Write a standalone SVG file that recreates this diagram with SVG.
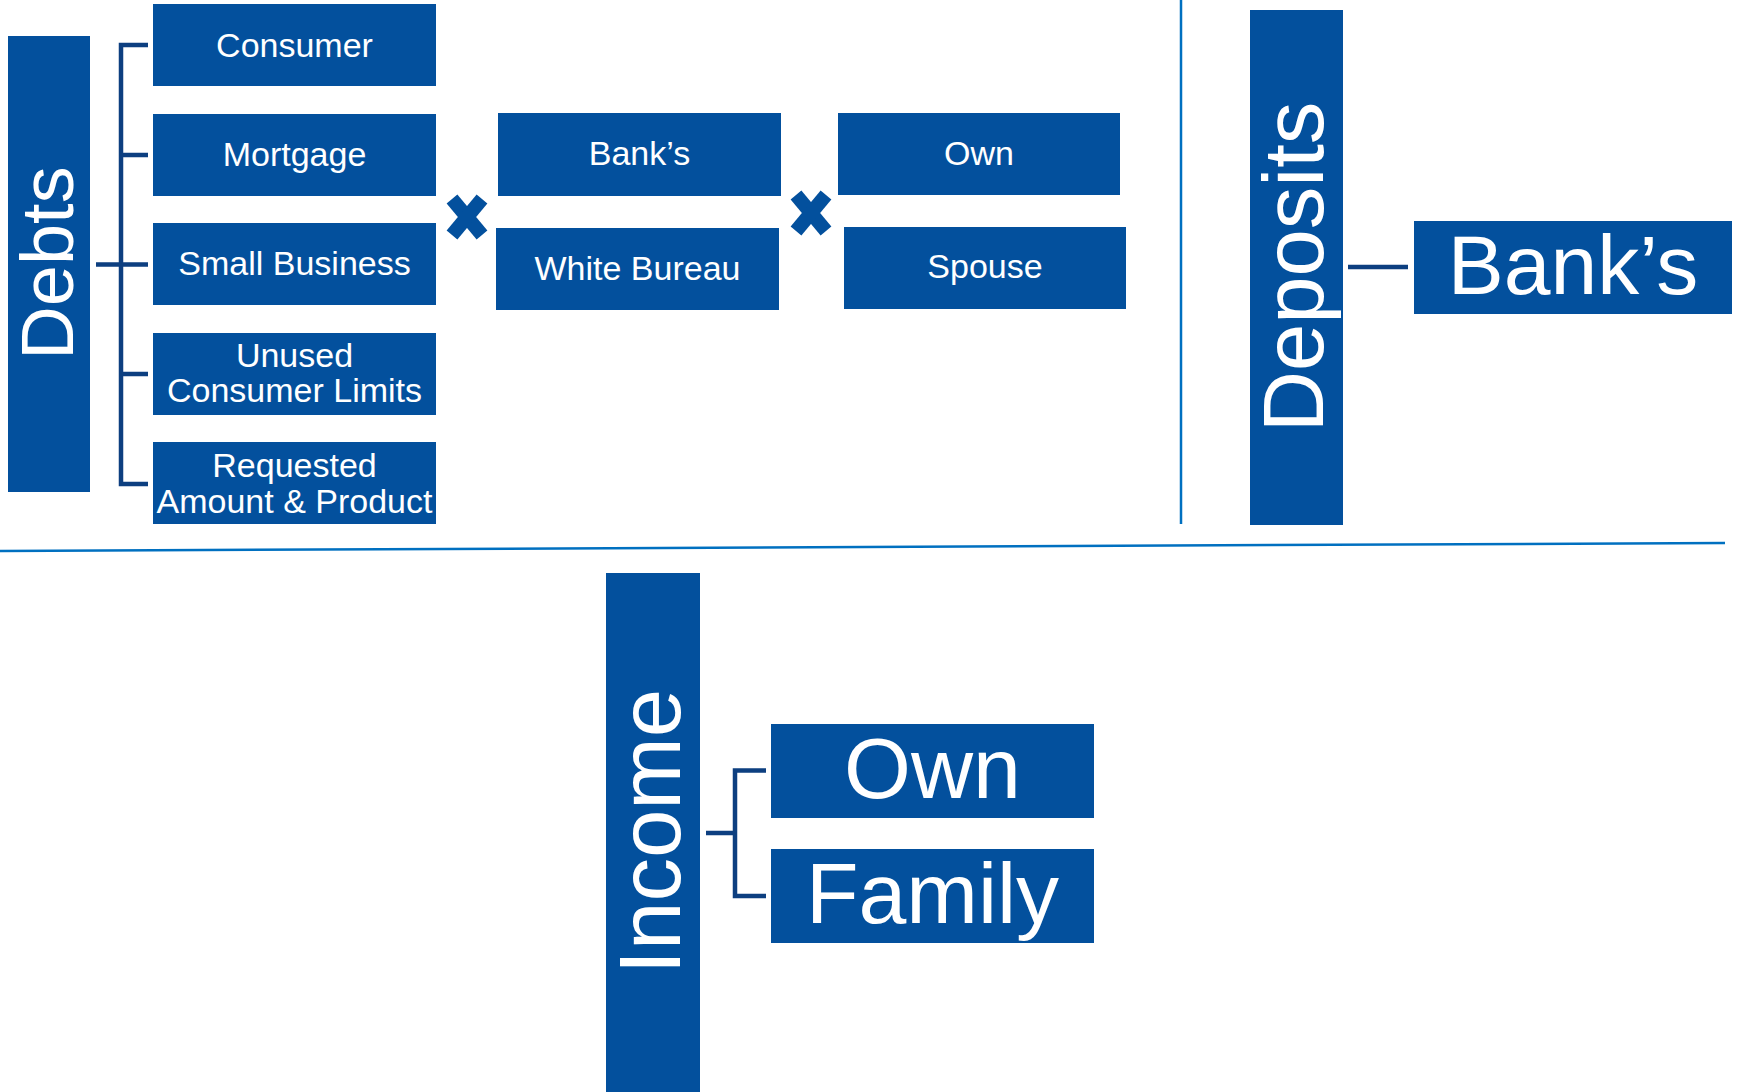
<svg xmlns="http://www.w3.org/2000/svg" width="1737" height="1092" viewBox="0 0 1737 1092">
  <style>
    .box { fill: #03509D; }
    .lbl { fill: #FFFFFF; font-family: "Liberation Sans", Arial, sans-serif; text-anchor: middle; }
    .sm { font-size: 34px; }
    .conn { stroke: #0D3F80; stroke-width: 4.5; fill: none; }
    .sep { stroke: #0070C0; stroke-width: 2.5; fill: none; }
    .mul { stroke: #03509D; stroke-width: 14; stroke-linecap: butt; }
  </style>

  <rect width="1737" height="1092" fill="#FFFFFF"/>

  <!-- section dividers -->
  <g id="dividers">
    <line class="sep" x1="1181" y1="0" x2="1181" y2="524"/>
    <line class="sep" x1="0" y1="551" x2="1725" y2="543"/>
  </g>

  <!-- connectors -->
  <g id="connectors">
    <path class="conn" d="M96 264.5 H121 M148 45 H121 V484 H148 M121 155 H148 M121 264.5 H148 M121 374 H148"/>
    <line class="conn" x1="1348" y1="267" x2="1408" y2="267"/>
    <path class="conn" d="M706 833 H735 M766 770.5 H735 V896 H766"/>
  </g>

  <!-- multiplication marks -->
  <g id="times-1">
    <line class="mul" x1="452" y1="199" x2="482" y2="235"/>
    <line class="mul" x1="482" y1="199" x2="452" y2="235"/>
  </g>
  <g id="times-2">
    <line class="mul" x1="796" y1="195" x2="826" y2="231"/>
    <line class="mul" x1="826" y1="195" x2="796" y2="231"/>
  </g>

  <!-- Debts -->
  <g id="debts">
    <rect class="box" x="8" y="36" width="82" height="456"/>
    <text class="lbl" font-size="74" transform="translate(73,263) rotate(-90)">Debts</text>
  </g>
  <g id="consumer">
    <rect class="box" x="153" y="4" width="283" height="82"/>
    <text class="lbl sm" x="294.5" y="56.5">Consumer</text>
  </g>
  <g id="mortgage">
    <rect class="box" x="153" y="114" width="283" height="82"/>
    <text class="lbl sm" x="294.5" y="166">Mortgage</text>
  </g>
  <g id="small-business">
    <rect class="box" x="153" y="223" width="283" height="82"/>
    <text class="lbl sm" x="294.5" y="275">Small Business</text>
  </g>
  <g id="unused-limits">
    <rect class="box" x="153" y="333" width="283" height="82"/>
    <text class="lbl sm" x="294.5" y="367">Unused</text>
    <text class="lbl sm" x="294.5" y="402">Consumer Limits</text>
  </g>
  <g id="requested">
    <rect class="box" x="153" y="442" width="283" height="82"/>
    <text class="lbl sm" x="294.5" y="477">Requested</text>
    <text class="lbl sm" x="294.5" y="513">Amount &amp; Product</text>
  </g>

  <!-- bureau sources -->
  <g id="banks-bureau">
    <rect class="box" x="498" y="113" width="283" height="83"/>
    <text class="lbl sm" x="639.5" y="165">Bank’s</text>
  </g>
  <g id="white-bureau">
    <rect class="box" x="496" y="228" width="283" height="82"/>
    <text class="lbl sm" x="637.5" y="280">White Bureau</text>
  </g>

  <!-- borrower scope -->
  <g id="own-debts">
    <rect class="box" x="838" y="113" width="282" height="82"/>
    <text class="lbl sm" x="979" y="165">Own</text>
  </g>
  <g id="spouse">
    <rect class="box" x="844" y="227" width="282" height="82"/>
    <text class="lbl sm" x="985" y="278">Spouse</text>
  </g>

  <!-- Deposits -->
  <g id="deposits">
    <rect class="box" x="1250" y="10" width="93" height="515"/>
    <text class="lbl" font-size="85" transform="translate(1323,267) rotate(-90)">Deposits</text>
  </g>
  <g id="banks-deposits">
    <rect class="box" x="1414" y="221" width="318" height="93"/>
    <text class="lbl" font-size="84" x="1573" y="293.5">Bank’s</text>
  </g>

  <!-- Income -->
  <g id="income">
    <rect class="box" x="606" y="573" width="94" height="519"/>
    <text class="lbl" font-size="87" transform="translate(680,831.5) rotate(-90)">Income</text>
  </g>
  <g id="own-income">
    <rect class="box" x="771" y="724" width="323" height="94"/>
    <text class="lbl" font-size="86" x="932.5" y="797.5">Own</text>
  </g>
  <g id="family">
    <rect class="box" x="771" y="849" width="323" height="94"/>
    <text class="lbl" font-size="86" x="932.5" y="922.5">Family</text>
  </g>
</svg>
